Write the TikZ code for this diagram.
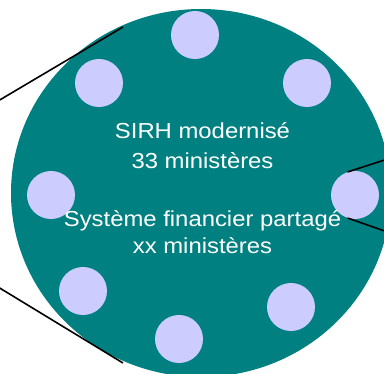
\documentclass[tikz,border=0pt]{standalone}
\usepackage{fontspec}
\setmainfont{Liberation Sans}
\newfontfamily\labelfont[FakeStretch=1.1]{Liberation Sans}
\usetikzlibrary{shapes.geometric}
\definecolor{discteal}{RGB}{0,128,128}
\definecolor{dotlav}{RGB}{204,204,255}
\begin{document}
\begin{tikzpicture}[x=1pt,y=-1pt,
  disc/.style={ellipse,fill=discteal,minimum width=380pt,minimum height=368pt,inner sep=0pt},
  dot/.style={circle,fill=dotlav,minimum size=48pt,inner sep=0pt},
  callout/.style={draw=black,line width=1.6pt},
  label/.style={text=white,anchor=base,inner sep=0pt,font=\labelfont\fontsize{21.7}{26}\selectfont}]
\useasboundingbox (0,0) rectangle (384,374);
\clip (0,0) rectangle (384,374);
% main disc
\node[disc] (disc) at (201,193) {};
% callout ends
\coordinate (luA) at (-2,101);
\coordinate (luB) at (123,27);
\coordinate (llA) at (-2,287);
\coordinate (llB) at (123,363);
\coordinate (ruA) at (386,159.5);
\coordinate (rlA) at (386,231.5);
% small circles on the rim
\node[dot] (d1) at (195,35) {};
\node[dot] (d2) at (99,83) {};
\node[dot] (d3) at (307,83) {};
\node[dot] (d4) at (51,195) {};
\node[dot] (d5) at (355,195) {};
\node[dot] (d6) at (83,291) {};
\node[dot] (d7) at (179,339) {};
\node[dot] (d8) at (291,307) {};
% callout lines
\draw[callout] (luA) -- (luB);
\draw[callout] (llA) -- (llB);
\draw[callout] (ruA) -- (d5.108);
\draw[callout] (rlA) -- (d5.252);
% centre texts
\node[label] (t1) at (202.5,139) {SIRH modernisé};
\node[label] (t2) at (202.5,168.5) {33 ministères};
\node[label] (t3) at (202.5,227) {Système financier partagé};
\node[label] (t4) at (202.5,254) {xx ministères};
\end{tikzpicture}
\end{document}
